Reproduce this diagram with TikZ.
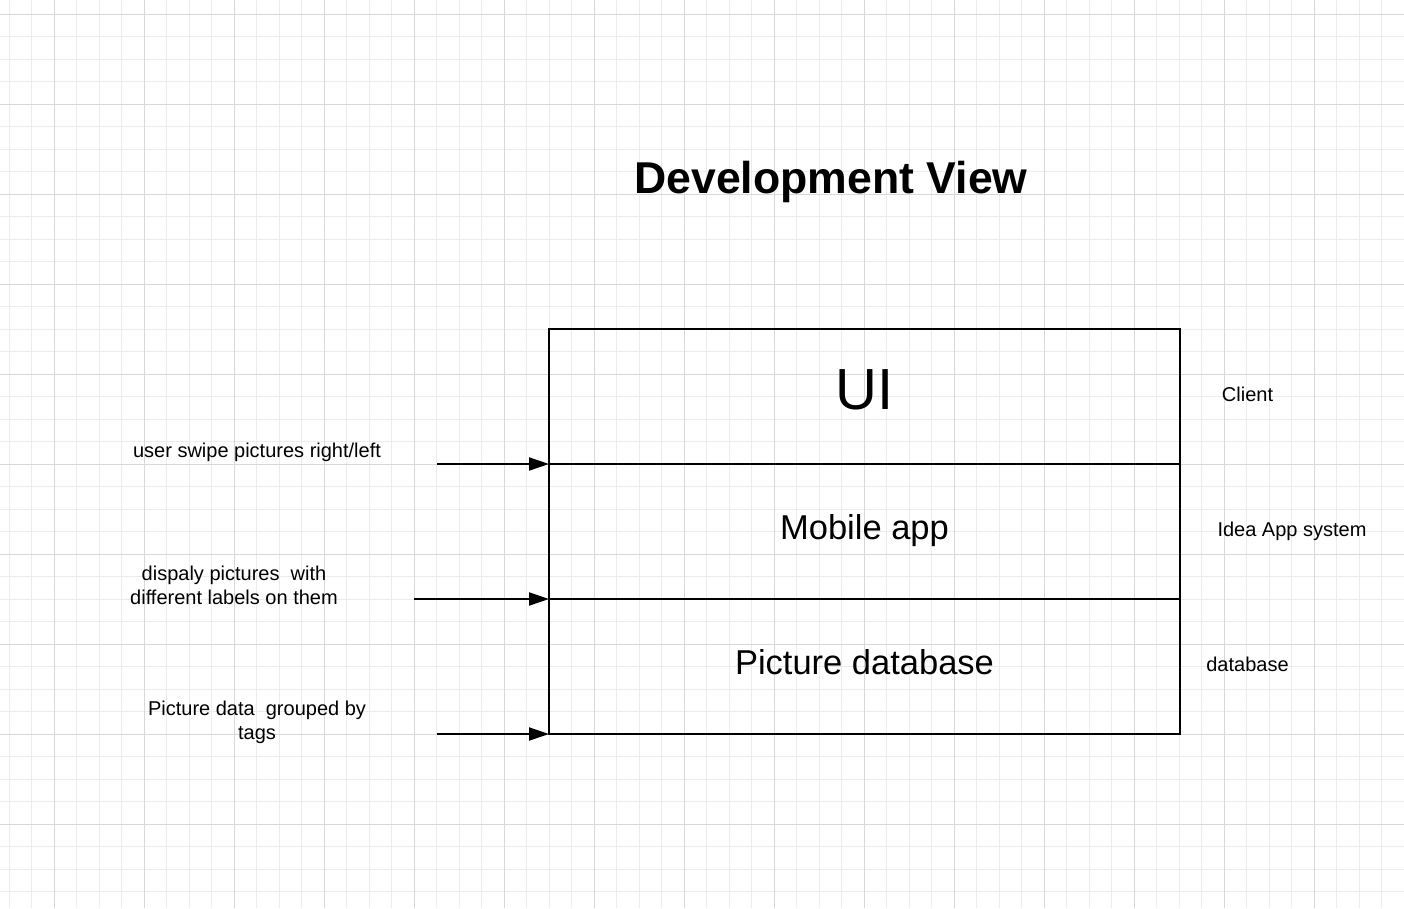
\documentclass[tikz,border=0pt]{standalone}
\usepackage{fontspec}
\setmainfont{Liberation Sans}
\usetikzlibrary{arrows.meta}
\definecolor{gridminor}{RGB}{236,236,236}
\definecolor{gridmajor}{RGB}{216,216,216}

\begin{document}
\begin{tikzpicture}[x=1pt, y=-1pt,
  layer/.style={draw, line width=2pt, rectangle, minimum width=631pt, minimum height=135pt,
    inner sep=0pt, outer sep=0pt, text height=25pt, text depth=9pt,
    font=\fontsize{34.5}{40}\selectfont},
  note/.style={inner sep=0pt, align=center, font=\fontsize{20}{24}\selectfont},
  feed/.style={line width=2pt, -{Triangle[length=20pt,width=13pt]}}]

\useasboundingbox (0,0) rectangle (1404,908);
\fill[white] (0,0) rectangle (1404,908);

\begin{scope}[gridminor, line width=1pt]
\foreach \k in {0,...,62}
\draw ({9.3+22.5*\k},0) -- ({9.3+22.5*\k},908);
\foreach \k in {0,...,39}
\draw (0,{14.3+22.5*\k}) -- (1404,{14.3+22.5*\k});
\end{scope}

\begin{scope}[gridmajor, line width=1pt]
\foreach \k in {0,...,15}
\draw ({54.3+90*\k},0) -- ({54.3+90*\k},908);
\foreach \k in {0,...,9}
\draw (0,{14.3+90*\k}) -- (1404,{14.3+90*\k});
\end{scope}

\node[inner sep=0pt, font=\bfseries\fontsize{44.6}{50}\selectfont] (title) at (831,182) {Development View};

\node[layer, text height=42pt, text depth=17pt, font=\fontsize{58}{64}\selectfont] (ui) at (864.5,396.5) {UI};
\node[layer] (app) at (864.5,531.5) {Mobile app};
\node[layer] (db) at (864.5,666.5) {Picture database};

\node[note] (client) at (1247.5,394) {Client};
\node[note] (system) at (1292,531) {Idea App system};
\node[note] (dbnote) at (1247.5,664) {database};

\node[note] (swipe) at (257,452) {user swipe pictures right/left};
\node[note] (display) at (234,585) {dispaly pictures~ with\\different labels on them};
\node[note] (tags) at (257,722) {Picture data~ grouped by\\tags};

\coordinate (in1) at (437,464);
\coordinate (in2) at (414,599);
\coordinate (in3) at (437,734);

\draw[feed] (in1) -- (ui.south west);
\draw[feed] (in2) -- (app.south west);
\draw[feed] (in3) -- (db.south west);

\end{tikzpicture}
\end{document}
